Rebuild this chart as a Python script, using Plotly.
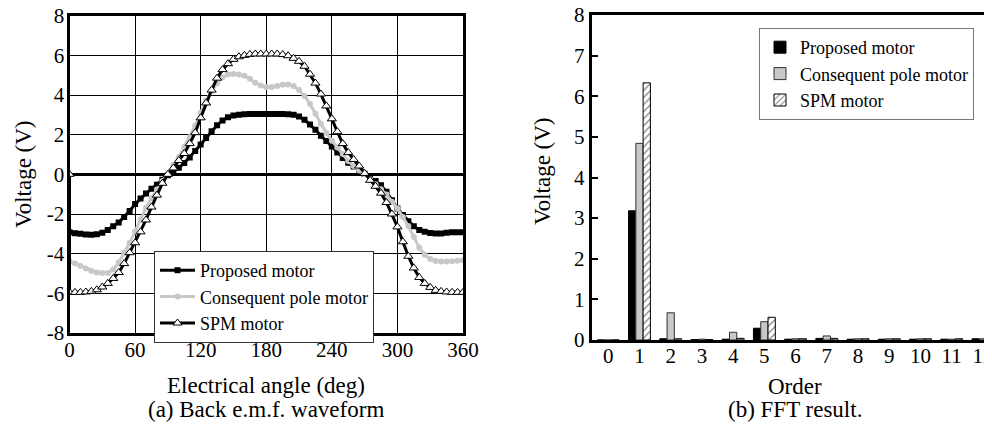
import plotly.graph_objects as go

# ---------------- data: (a) back e.m.f. waveform ----------------
angle = list(range(0, 361, 5))

proposed = [
    -2.92, -2.97, -3.00, -3.03, -3.04, -3.02, -2.95, -2.80, -2.62, -2.43, -2.15, -1.85,
    -1.50, -1.22, -0.97, -0.73, -0.52, -0.27, -0.05, 0.12, 0.33, 0.57, 0.85, 1.18,
    1.50, 1.83, 2.17, 2.47, 2.72, 2.88, 2.97, 3.01, 3.03, 3.04, 3.04, 3.04,
    3.04, 3.04, 3.04, 3.04, 3.03, 3.00, 2.92, 2.75, 2.52, 2.25, 1.95, 1.68,
    1.40, 1.10, 0.82, 0.59, 0.40, 0.20, 0.03, -0.14, -0.33, -0.55, -0.88, -1.30,
    -1.72, -2.05, -2.36, -2.62, -2.80, -2.90, -2.96, -2.98, -2.98, -2.95, -2.92, -2.92,
    -2.92,
]

consequent = [
    -4.38, -4.50, -4.62, -4.75, -4.87, -4.95, -4.98, -4.97, -4.80, -4.45, -3.95, -3.45,
    -2.87, -2.27, -1.68, -1.20, -0.77, -0.33, 0.05, 0.47, 0.88, 1.38, 1.88, 2.45,
    3.10, 3.72, 4.20, 4.60, 4.90, 5.03, 5.06, 5.03, 4.97, 4.82, 4.62, 4.48,
    4.40, 4.40, 4.45, 4.52, 4.53, 4.45, 4.25, 3.95, 3.55, 3.05, 2.55, 2.08,
    1.70, 1.35, 1.02, 0.67, 0.42, 0.20, 0.00, -0.25, -0.50, -0.75, -1.02, -1.38,
    -1.72, -2.15, -2.61, -3.15, -3.70, -4.05, -4.27, -4.37, -4.40, -4.40, -4.38, -4.36,
    -4.33,
]

spm = [
    -5.95, -5.95, -5.95, -5.93, -5.90, -5.82, -5.68, -5.50, -5.25, -4.95, -4.50, -3.95,
    -3.45, -2.90, -2.30, -1.65, -1.05, -0.45, 0.00, 0.32, 0.70, 1.05, 1.55, 2.10,
    2.85, 3.60, 4.25, 4.85, 5.28, 5.58, 5.80, 5.93, 6.00, 6.05, 6.07, 6.07,
    6.07, 6.07, 6.07, 6.04, 5.98, 5.85, 5.70, 5.45, 5.05, 4.60, 4.05, 3.45,
    2.80, 2.15, 1.55, 1.10, 0.75, 0.42, 0.05, -0.30, -0.60, -0.95, -1.42, -2.00,
    -2.65, -3.40, -4.13, -4.72, -5.20, -5.50, -5.70, -5.85, -5.90, -5.93, -5.95, -5.95,
    -5.95,
]
spm_start_angle = 0
spm_start_value = 0.0

# ---------------- data: (b) FFT result ----------------
orders = list(range(0, 13))
fft_proposed = [0.00, 3.18, 0.03, 0.01, 0.02, 0.29, 0.02, 0.04, 0.02, 0.02, 0.02, 0.02, 0.03]
fft_consequent = [0.00, 4.84, 0.67, 0.02, 0.19, 0.45, 0.03, 0.10, 0.03, 0.03, 0.03, 0.02, 0.03]
fft_spm = [0.00, 6.33, 0.03, 0.01, 0.04, 0.56, 0.03, 0.04, 0.03, 0.03, 0.03, 0.03, 0.03]

names = ["Proposed motor", "Consequent pole motor", "SPM motor"]
x_ticks_a = [0, 60, 120, 180, 240, 300, 360]
y_ticks_a = [-8, -6, -4, -2, 0, 2, 4, 6, 8]
y_ticks_a_text = ["-8", "-6", "-4", "-2", "0", "2", "4", "6", "8"]
y_ticks_b = [0, 1, 2, 3, 4, 5, 6, 7, 8]

FONT = "Times New Roman, Liberation Serif, serif"
GRAY = "#c8c8c8"

# the page body has an 8px margin, so the figure is sized to fit inside it
W, H = 984, 417


def px(x):
    return x / W


def py(y):
    return 1 - y / H


fig = go.Figure()

# (a) waveforms
fig.add_trace(go.Scatter(
    x=angle, y=proposed, name=names[0], mode="lines+markers",
    line=dict(color="black", width=3),
    marker=dict(symbol="square", size=6, color="black"),
    xaxis="x", yaxis="y", legend="legend",
))
fig.add_trace(go.Scatter(
    x=angle, y=consequent, name=names[1], mode="lines+markers",
    line=dict(color=GRAY, width=3),
    marker=dict(symbol="circle", size=6, color=GRAY),
    xaxis="x", yaxis="y", legend="legend",
))
fig.add_trace(go.Scatter(
    x=[spm_start_angle] + angle, y=[spm_start_value] + spm, name=names[2],
    mode="lines+markers",
    line=dict(color="black", width=3),
    marker=dict(symbol="triangle-up", size=8, color="white",
                line=dict(color="black", width=1)),
    xaxis="x", yaxis="y", legend="legend",
))

# (b) FFT bars
fig.add_trace(go.Bar(
    x=orders, y=fft_proposed, name=names[0],
    marker=dict(color="black", line=dict(color="black", width=1)),
    xaxis="x2", yaxis="y2", legend="legend2",
))
fig.add_trace(go.Bar(
    x=orders, y=fft_consequent, name=names[1],
    marker=dict(color=GRAY, line=dict(color="#333333", width=1)),
    xaxis="x2", yaxis="y2", legend="legend2",
))
fig.add_trace(go.Bar(
    x=orders, y=fft_spm, name=names[2],
    marker=dict(color="white", line=dict(color="black", width=1),
                pattern=dict(shape="/", fgcolor="black", bgcolor="white",
                             size=5, solidity=0.25)),
    xaxis="x2", yaxis="y2", legend="legend2",
))

tick_font = dict(family=FONT, size=21, color="black")

fig.update_layout(
    width=W, height=H,
    margin=dict(l=0, r=0, t=0, b=0, pad=0, autoexpand=False),
    paper_bgcolor="white", plot_bgcolor="white",
    font=dict(family=FONT, size=18, color="black"),
    barmode="group", bargap=0.3, bargroupgap=0,
    xaxis=dict(
        domain=[px(61.5), px(455)], anchor="y", range=[0, 360], automargin=False,
        tickvals=x_ticks_a, ticks="", tickfont=tick_font, ticklabelstandoff=-4,
        ticklabeloverflow="allow",
        showgrid=True, gridcolor="black", gridwidth=1,
        showline=True, linecolor="black", linewidth=3, mirror=True,
        zeroline=False,
    ),
    yaxis=dict(
        domain=[py(325), py(7.7)], anchor="x", range=[-8, 8], automargin=False,
        tickvals=y_ticks_a, ticktext=y_ticks_a_text, ticks="", tickfont=tick_font,
        ticklabelstandoff=-2, ticklabeloverflow="allow",
        showgrid=True, gridcolor="black", gridwidth=1,
        showline=True, linecolor="black", linewidth=3, mirror=True,
        zeroline=True, zerolinecolor="black", zerolinewidth=3,
    ),
    xaxis2=dict(
        domain=[px(583.7), 1.0], anchor="y2", range=[-0.53, 12.29], automargin=False,
        tickvals=orders, ticks="", tickfont=tick_font, ticklabelstandoff=-5,
        ticklabeloverflow="allow",
        showgrid=False, showline=True, linecolor="black", linewidth=3, mirror=True,
        zeroline=False,
    ),
    yaxis2=dict(
        domain=[py(332), py(7)], anchor="x2", range=[0, 8], automargin=False,
        tickvals=y_ticks_b, ticks="inside", ticklen=6, tickwidth=2, tickcolor="black",
        tickfont=tick_font, ticklabeloverflow="allow",
        showgrid=False, showline=True, linecolor="black", linewidth=3, mirror=False,
        zeroline=False,
    ),
    legend=dict(
        x=px(146), y=py(243), xanchor="left", yanchor="top",
        bgcolor="white", bordercolor="#333333", borderwidth=1,
        font=dict(family=FONT, size=18, color="black"),
        tracegroupgap=0, itemwidth=35,
    ),
    legend2=dict(
        x=px(751), y=py(20), xanchor="left", yanchor="top",
        bgcolor="white", bordercolor="#777777", borderwidth=1,
        font=dict(family=FONT, size=18, color="black"),
        tracegroupgap=0,
    ),
    showlegend=True,
)

ann_font = dict(family=FONT, size=23, color="black")
annotations = [
    dict(text="Voltage (V)", x=px(15), y=py(166), textangle=-90),
    dict(text="Electrical angle (deg)", x=px(258), y=py(377)),
    dict(text="(a) Back e.m.f. waveform", x=px(258), y=py(401)),
    dict(text="Voltage (V)", x=px(534), y=py(163), textangle=-90),
    dict(text="Order", x=px(787), y=py(378)),
    dict(text="(b) FFT result.", x=px(787), y=py(401)),
]
for a in annotations:
    fig.add_annotation(xref="paper", yref="paper", showarrow=False,
                       xanchor="center", yanchor="middle", font=ann_font, **a)

fig.write_html("out.html")
